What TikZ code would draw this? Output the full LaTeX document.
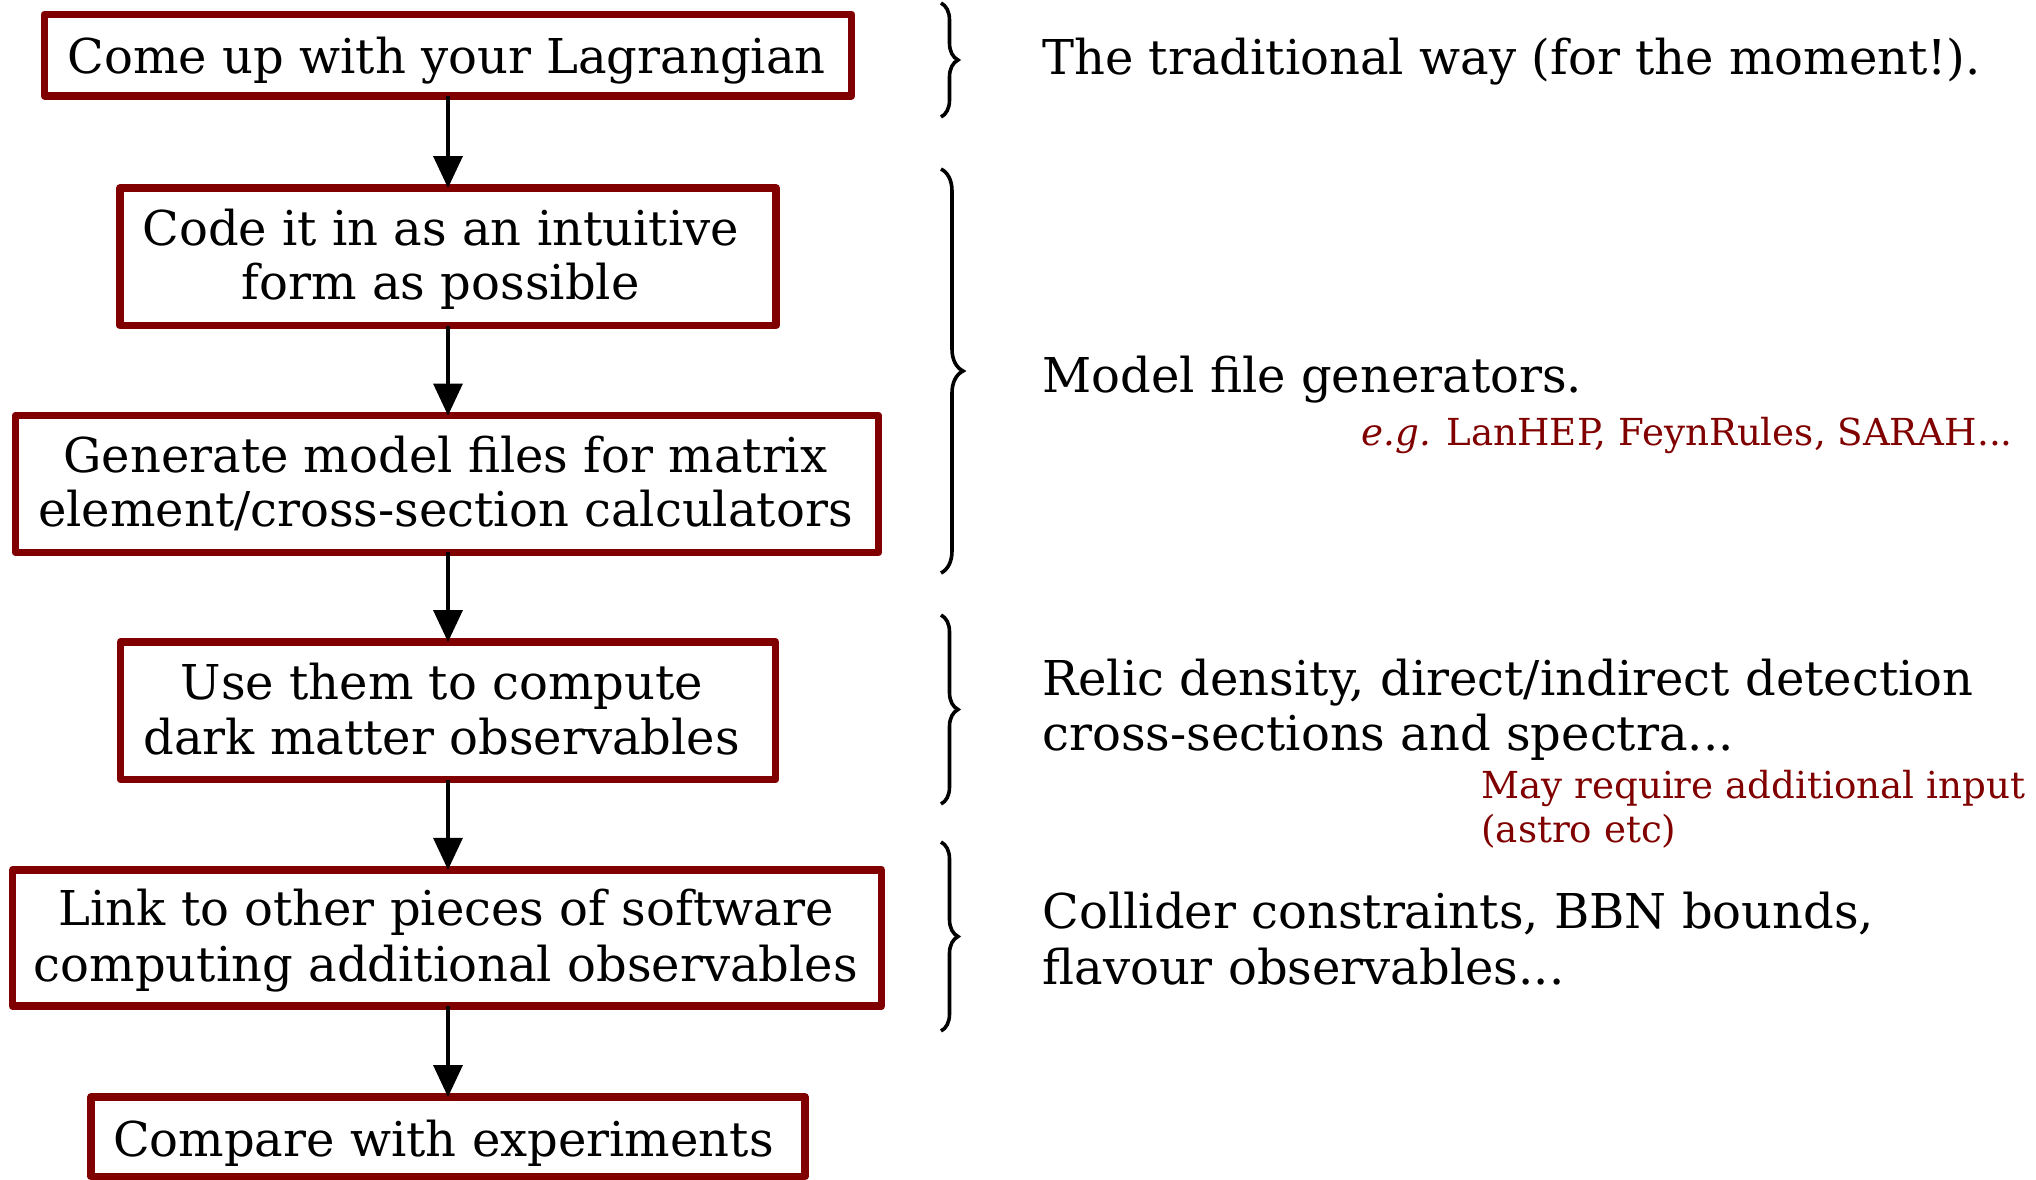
\documentclass[tikz,border=0pt]{standalone}
\usepackage{fontspec}
\setmainfont{DejaVu Serif}
\usetikzlibrary{arrows.meta,decorations.pathreplacing}
\definecolor{boxred}{RGB}{128,0,0}
\begin{document}
\begin{tikzpicture}[x=0.5pt,y=-0.5pt,
  stepbox/.style={draw=boxred, line width=3.75pt, line join=round, fill=white,
    inner sep=0pt, outer sep=0pt},
  steptext/.style={anchor=base, inner sep=0pt, font=\fontsize{24}{27}\selectfont},
  flow/.style={-{Triangle[length=16pt,width=14.5pt]}, line width=1.8pt},
  note/.style={anchor=base west, inner sep=0pt, font=\fontsize{24}{27}\selectfont},
  rednote/.style={anchor=base west, inner sep=0pt, text=boxred,
    font=\fontsize{18.6}{22}\selectfont},
  curly/.style={decorate, decoration={brace, amplitude=#1}, line width=1.8pt},
  curly/.default=8.5pt]
\useasboundingbox (0,0) rectangle (2036,1179);

% workflow steps: frames
\node[stepbox, minimum width=403.5pt, minimum height=40.75pt] (lag)  at (448,55)     {};
\node[stepbox, minimum width=328pt,   minimum height=68.75pt] (code) at (448,256.75) {};
\node[stepbox, minimum width=431.5pt, minimum height=68.4pt]  (gen)  at (447,483.9)  {};
\node[stepbox, minimum width=327.5pt, minimum height=68.75pt] (use)  at (448,710.75) {};
\node[stepbox, minimum width=434.5pt, minimum height=68.2pt]  (link) at (447,938)    {};
\node[stepbox, minimum width=357pt,   minimum height=39.75pt] (cmp)  at (448,1136.75) {};

% workflow steps: labels
\node[steptext] (lagT)  at (446.7,73.3)  {Come up with your Lagrangian};
\node[steptext] (codeT1) at (440.8,245)   {Code it in as an intuitive};
\node[steptext] (codeT2) at (440.8,299.3) {form as possible};
\node[steptext] (genT1) at (445.4,472.7) {Generate model files for matrix};
\node[steptext] (genT2) at (445.4,526.7) {element/cross-section calculators};
\node[steptext] (useT1) at (441.8,699.3) {Use them to compute};
\node[steptext] (useT2) at (441.8,754)   {dark matter observables};
\node[steptext] (linkT1) at (446,925.7)  {Link to other pieces of software};
\node[steptext] (linkT2) at (446,981)    {computing additional observables};
\node[steptext] (cmpT)  at (443.4,1156.7) {Compare with experiments};

% arrows between steps
\draw[flow] (lag.south) -- (code.north);
\draw[flow] (code.south) -- (lag.south |- gen.north);
\draw[flow] (lag.south |- gen.south) -- (lag.south |- use.north);
\draw[flow] (use.south) -- (lag.south |- link.north);
\draw[flow] (lag.south |- link.south) -- (cmp.north);

% braces grouping the steps
\coordinate (br1a) at (941,3);    \coordinate (br1b) at (941,117);
\coordinate (br2a) at (941,169);  \coordinate (br2b) at (941,573);
\coordinate (br3a) at (941,615);  \coordinate (br3b) at (941,804);
\coordinate (br4a) at (941,842);  \coordinate (br4b) at (941,1031);
\draw[curly] (br1a) -- (br1b);
\draw[curly=11pt] (br2a) -- (br2b);
\draw[curly] (br3a) -- (br3b);
\draw[curly] (br4a) -- (br4b);

% comments on each group
\node[note] (c1) at (1042,74) {The traditional way (for the moment!).};
\node[note] (c2) at (1042,392) {Model file generators.};
\node[rednote] (c2e) at (1361,445) {\textit{e.g.} LanHEP, FeynRules, SARAH...};
\node[note] (c3a) at (1042,695) {Relic density, direct/indirect detection};
\node[note] (c3b) at (1042,750) {cross-sections and spectra...};
\node[rednote] (c3c) at (1481,798) {May require additional input};
\node[rednote] (c3d) at (1481,842) {(astro etc)};
\node[note] (c4a) at (1042,928) {Collider constraints, BBN bounds,};
\node[note] (c4b) at (1042,984) {flavour observables...};
\end{tikzpicture}
\end{document}
